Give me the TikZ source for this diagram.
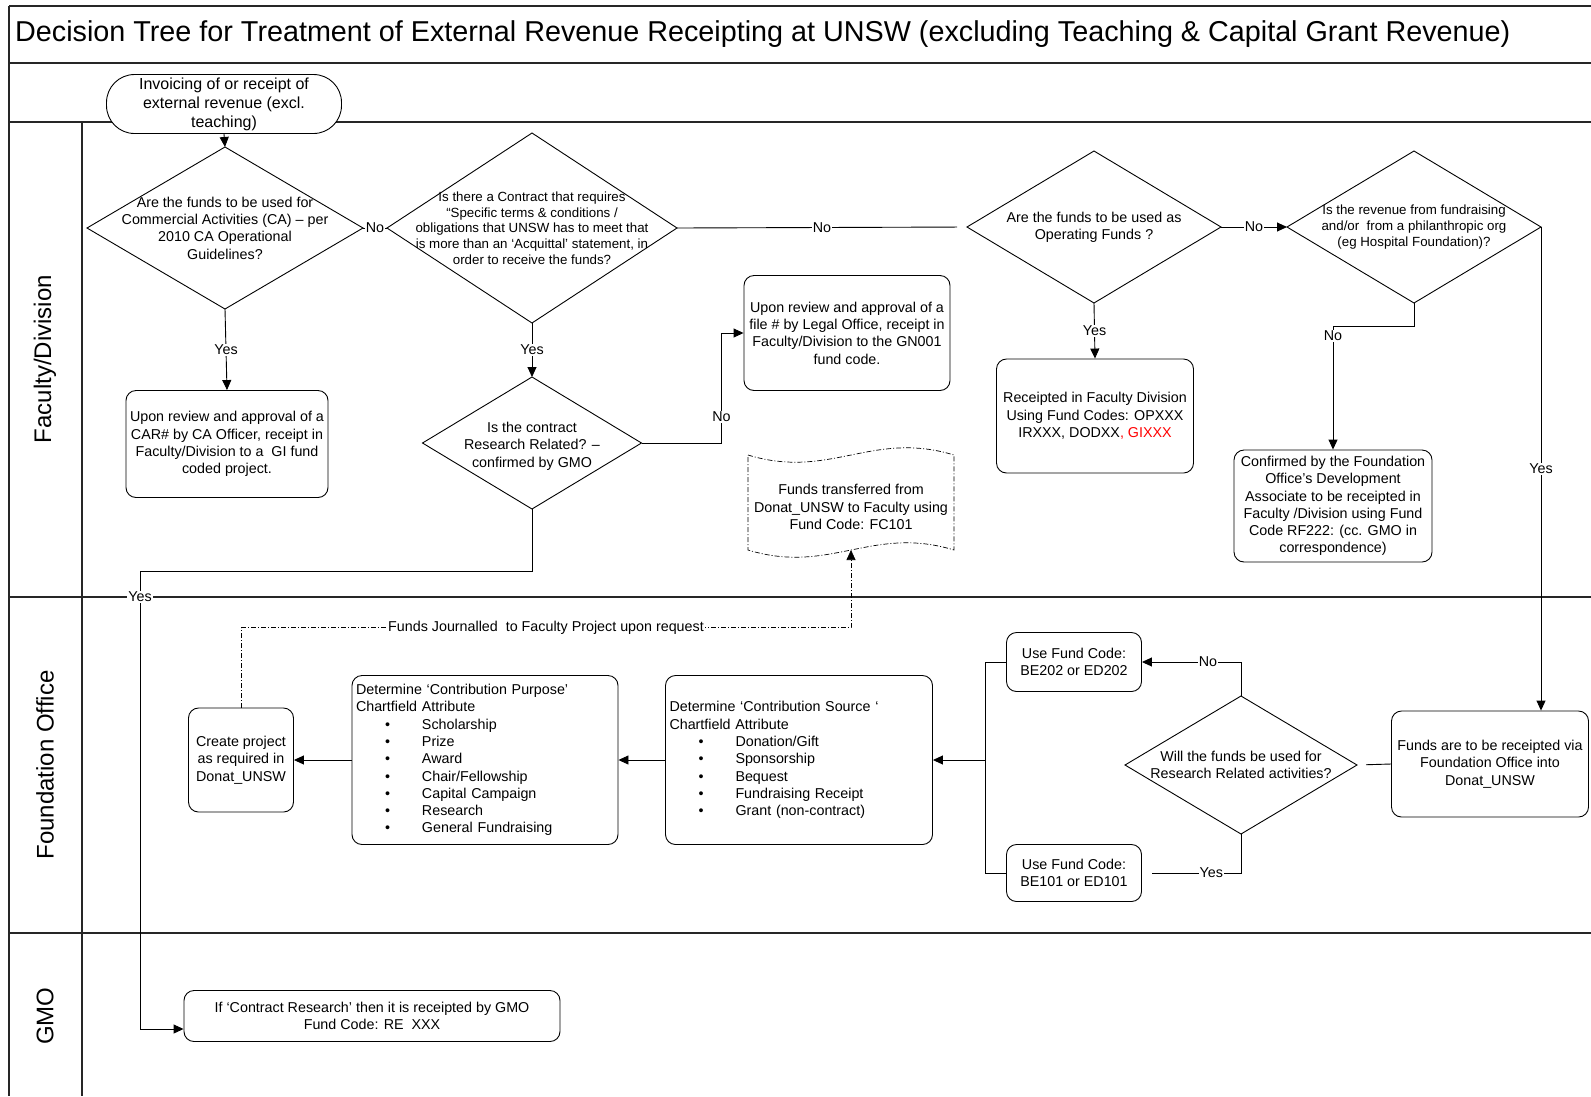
\documentclass[tikz,border=0pt]{standalone}
\usepackage{fontspec}
\setmainfont{Liberation Sans}
\usetikzlibrary{shapes.geometric,arrows.meta,calc}
\newcommand{\myfs}{\fontsize{14.3}{17.3}\selectfont}
\newcommand{\mybul}{\hspace*{29pt}\makebox[37pt][l]{•}}
\begin{document}
\begin{tikzpicture}[x=1pt,y=-1pt,
  frameline/.style={line width=1.3pt, black!85},
  conn/.style={line width=0.9pt},
  arr/.style={conn, -{Triangle[length=10pt,width=9pt]}},
  dd/.style={line width=0.7pt, dash pattern=on 5pt off 2pt on 1pt off 2pt},
  procbox/.style={draw, line width=0.9pt, rounded corners=10pt, fill=white, align=center, inner sep=2pt, font=\myfs},
  decis/.style={draw, diamond, line width=0.9pt, fill=white, inner sep=0pt, outer sep=0pt},
  dtext/.style={align=center, font=\myfs},
  lbl/.style={fill=white, inner sep=1pt, font=\myfs},
  lane/.style={rotate=90, font=\fontsize{24}{28}\selectfont}
]
\useasboundingbox (0,0) rectangle (1591,1096);
\fill[white] (0,0) rectangle (1591,1096);

% frame
\draw[frameline] (9,6) -- (1591,6);
\draw[frameline] (9,63) -- (1591,63);
\draw[frameline] (9,122) -- (1591,122);
\draw[frameline] (9,597) -- (1591,597);
\draw[frameline] (9,933) -- (1591,933);
\draw[frameline] (9,6) -- (9,1096);
\draw[frameline] (82,122) -- (82,1096);

\node[anchor=west, inner sep=0, font=\fontsize{28.75}{34}\selectfont] (title) at (15,34)
  {Decision Tree for Treatment of External Revenue Receipting at UNSW (excluding Teaching \& Capital Grant Revenue)};

\node[lane] (lfac) at (45,359) {Faculty/Division};
\node[lane] (lfnd) at (45,765) {Foundation Office};
\node[lane] (lgmo) at (45,1016) {GMO};

% nodes
\node[draw, line width=0.9pt, rounded corners=28pt, fill=white, minimum width=235pt, minimum height=59pt,
  align=center, inner sep=0, font=\fontsize{16}{19}\selectfont] (start) at (224,104)
  {Invoicing of or receipt of\\external revenue (excl.\\teaching)};

\node[decis, minimum width=276pt, minimum height=162pt] (d1) at (225,228) {};
\node[dtext] (d1t) at (d1.center) {Are the funds to be used for\\Commercial Activities (CA) – per\\2010 CA Operational\\Guidelines?};

\node[decis, minimum width=290pt, minimum height=190pt] (d2) at (532,228) {};
\node[dtext, font=\fontsize{13.3}{15.7}\selectfont] (d2t) at (d2.center) {Is there a Contract that requires\\“Specific terms \& conditions /\\obligations that UNSW has to meet that\\is more than an ‘Acquittal’ statement, in\\order to receive the funds?};

\node[decis, minimum width=254pt, minimum height=152pt] (d3) at (1094,227) {};
\node[dtext] (d3t) at (d3.center) {Are the funds to be used as\\Operating Funds ?};

\node[decis, minimum width=254pt, minimum height=152pt] (d4) at (1414,227) {};
\node[dtext, font=\fontsize{13.3}{16}\selectfont] (d4t) at (d4.center) {Is the revenue from fundraising\\and/or~ from a philanthropic org\\(eg Hospital Foundation)?};

\node[procbox, minimum width=202pt, minimum height=107pt] (carbox) at (227,444)
  {Upon review and approval of a\\CAR\# by CA Officer, receipt in\\Faculty/Division to a~ GI fund\\coded project.};

\node[decis, minimum width=219pt, minimum height=132pt] (d5) at (532,443) {};
\node[dtext] (d5t) at ([yshift=-3pt]d5.center) {Is the contract\\Research Related? –\\confirmed by GMO};

\node[procbox, minimum width=206pt, minimum height=115pt] (gnbox) at (847,333)
  {Upon review and approval of a\\file \# by Legal Office, receipt in\\Faculty/Division to the GN001\\fund code.};

\node[procbox, minimum width=197pt, minimum height=114pt] (rcpt) at (1095,416)
  {Receipted in Faculty Division\\Using Fund Codes: OPXXX\\IRXXX, DODXX\textcolor{red}{, GIXXX}};

\node[procbox, minimum width=198pt, minimum height=112pt] (conf) at (1333,506)
  {Confirmed by the Foundation\\Office’s Development\\Associate to be receipted in\\Faculty /Division using Fund\\Code RF222: (cc. GMO in\\correspondence)};

% document (tape) shape
\draw[dd, fill=white] (748,455) .. controls (830,480) and (872,430) .. (954,455) -- (954,550)
  .. controls (872,525) and (830,575) .. (748,550) -- cycle;
\node[dtext] (doc) at (851,507) {Funds transferred from\\Donat\_UNSW to Faculty using\\Fund Code: FC101};
\coordinate (docb) at (851,550);

% foundation lane
\node[procbox, minimum width=197pt, minimum height=106pt] (fund) at (1490,764)
  {Funds are to be receipted via\\Foundation Office into\\Donat\_UNSW};

\node[decis, minimum width=232pt, minimum height=138pt] (d6) at (1241,765) {};
\node[dtext] (d6t) at (d6.center) {Will the funds be used for\\Research Related activities?};

\node[procbox, minimum width=135pt, minimum height=59pt] (be202) at (1074,662) {Use Fund Code:\\BE202 or ED202};
\node[procbox, minimum width=135pt, minimum height=57pt] (be101) at (1074,873) {Use Fund Code:\\BE101 or ED101};

\node[procbox, minimum width=267pt, minimum height=169pt, text width=259pt, align=left, inner xsep=4pt] (src) at (799,760)
  {Determine ‘Contribution Source ‘\\Chartfield Attribute\\\mybul Donation/Gift\\\mybul Sponsorship\\\mybul Bequest\\\mybul Fundraising Receipt\\\mybul Grant (non-contract)};

\node[procbox, minimum width=266pt, minimum height=169pt, text width=258pt, align=left, inner xsep=4pt] (purp) at (485,760)
  {Determine ‘Contribution Purpose’\\Chartfield Attribute\\\mybul Scholarship\\\mybul Prize\\\mybul Award\\\mybul Chair/Fellowship\\\mybul Capital Campaign\\\mybul Research\\\mybul General Fundraising};

\node[procbox, minimum width=105pt, minimum height=104pt, inner sep=0] (create) at (241,760)
  {Create project\\as required in\\Donat\_UNSW};

\node[procbox, minimum width=376pt, minimum height=51pt] (gmo) at (372,1016)
  {If ‘Contract Research’ then it is receipted by GMO\\Fund Code: RE~ XXX};

% connectors
\draw[arr] (start.south) -- (d1.north);
\draw[conn] (d1.east) -- (d2.west) node[lbl, midway] {No};
\draw[conn, shorten >=10pt] (d2.east) -- (d3.west) node[lbl, midway] {No};
\draw[arr] (d3.east) -- (d4.west) node[lbl, midway] {No};
\draw[arr] (d1.south) -- (carbox.north) node[lbl, midway] {Yes};
\draw[arr] (d2.south) -- (d5.north) node[lbl, midway] {Yes};
\draw[arr] (d5.east) -- ++(80,0) |- (gnbox.west) node[lbl, pos=0.12] {No};
\draw[arr] (d3.south) -- (rcpt.north) node[lbl, midway] {Yes};
\draw[arr] (d4.south) -- ++(0,23) -| (conf.north) node[lbl, pos=0.54] {No};
\draw[arr] (d4.east) -- (d4.east |- fund.north) node[lbl, midway] {Yes};

\draw[conn, shorten >=9pt] (fund.west) -- (d6.east);
\draw[arr] (d6.north) |- (be202.east) node[lbl, pos=0.667] {No};
\draw[conn, shorten >=10pt] (d6.south) |- (be101.east) node[lbl, pos=0.65] {Yes};
\draw[conn] (be202.west) -- ++(-21,0) |- (be101.west);
\coordinate (jn) at (985,760);
\draw[arr] (jn) -- (src.east);
\draw[arr] (src.west) -- (purp.east);
\draw[arr] (purp.west) -- (create.east);

\draw[dd, -{Triangle[length=10pt,width=9pt]}] (create.north) -- ++(0,-80) -| (docb)
  node[lbl, pos=0.25] {Funds Journalled~ to Faculty Project upon request};

\coordinate (yc) at (140,571);
\coordinate (gmoin) at ($(gmo.west)+(0,13)$);
\draw[arr] (d5.south) |- (yc) -- (yc |- gmoin) node[lbl, pos=0.057] {Yes} -- (gmoin);
\end{tikzpicture}
\end{document}
